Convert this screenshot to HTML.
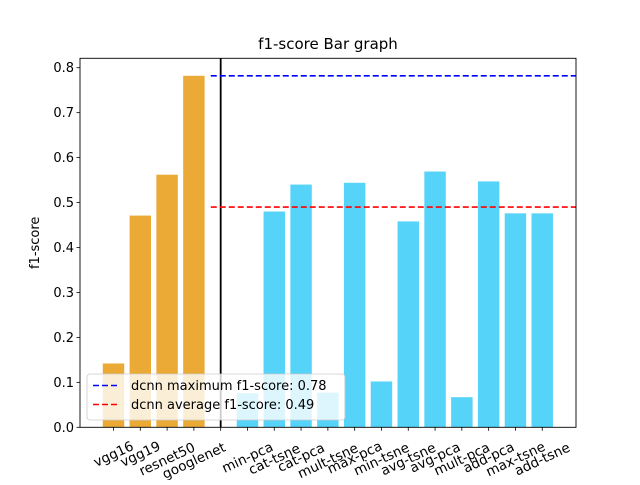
<!DOCTYPE html>
<html><head><meta charset="utf-8"><style>
body{margin:0;background:#fff}
svg text{font-family:"DejaVu Sans","Liberation Sans",sans-serif;fill:#000}
</style></head><body>
<svg width="640" height="480" viewBox="0 0 640 480">
<rect width="640" height="480" fill="#fff"/>
<g id="plot"></g>
</svg>
<script>
const dcnnLabels=["vgg16","vgg19","resnet50","googlenet"];
const dcnnValues=[0.142,0.471,0.562,0.782];
const fusionLabels=["min-pca","cat-tsne","cat-pca","mult-tsne","max-pca","min-tsne","avg-tsne","avg-pca","mult-pca","add-pca","max-tsne","add-tsne"];
const fusionValues=[0.076,0.48,0.54,0.077,0.544,0.102,0.458,0.569,0.067,0.547,0.476,0.476];
const yTicks=[0,0.1,0.2,0.3,0.4,0.5,0.6,0.7,0.8];
const maxScore=0.782, avgScore=0.49;

const NS="http://www.w3.org/2000/svg";
const g=document.getElementById('plot');
const L=80,R=576,T=58.3,B=427.3;
const xmin=-1.25,xmax=17.26,ymax=(B-T)/449.5;
const x=v=>L+(v-xmin)/(xmax-xmin)*(R-L);
const y=v=>B-v/ymax*(B-T);
function el(tag,attrs,parent){const e=document.createElementNS(NS,tag);for(const k in attrs)e.setAttribute(k,attrs[k]);(parent||g).appendChild(e);return e;}
const bw=0.8*(x(1)-x(0));
const ang=25*Math.PI/180;
function bar(i,v,color,name){
  const r=el('rect',{x:x(i)-bw/2,y:y(v),width:bw,height:y(0)-y(v),fill:color});
  
  
}
function xtick(i,label){
  const t=el('line',{x1:x(i),x2:x(i),y1:B,y2:B+3.5,stroke:'#000','stroke-width':0.8});
  
  
  if(label){
    const w=label.length*7.8;
    const hgt=w*Math.sin(ang)+13*Math.cos(ang);
    const tx=el('text',{x:0,y:4.5,'font-size':13.5,'text-anchor':'middle',transform:`translate(${x(i)},${440+hgt/2}) rotate(-25)`});
    tx.textContent=label;
    
    
  }
}
dcnnValues.forEach((v,i)=>{bar(i,v,'#eba936','bar-'+dcnnLabels[i]);xtick(i,dcnnLabels[i]);});
xtick(4,'');
fusionValues.forEach((v,i)=>{bar(i+5,v,'#56d3f9','bar-'+fusionLabels[i]);xtick(i+5,fusionLabels[i]);});
const sep=el('line',{x1:x(4),x2:x(4),y1:T,y2:B,stroke:'#000','stroke-width':1.8});


const h1=el('line',{x1:x(3.63),x2:R,y1:y(maxScore),y2:y(maxScore),stroke:'#0000ff','stroke-width':1.6,'stroke-dasharray':'6 3'});


const h2=el('line',{x1:x(3.63),x2:R,y1:y(avgScore),y2:y(avgScore),stroke:'#ff0000','stroke-width':1.6,'stroke-dasharray':'6 3'});


yTicks.forEach(v=>{
  const t=el('line',{x1:L-3.5,x2:L,y1:y(v),y2:y(v),stroke:'#000','stroke-width':0.8});
  
  
  const tx=el('text',{x:L-6,y:y(v)+4.5,'font-size':13,'text-anchor':'end'});
  tx.textContent=v.toFixed(1);
  
  
});
const fr=el('rect',{x:L,y:T,width:R-L,height:B-T,fill:'none',stroke:'#000','stroke-width':0.9});


const title=el('text',{x:(L+R)/2,y:49,'font-size':15,'text-anchor':'middle'});
title.textContent='f1-score Bar graph';


const yl=el('text',{x:0,y:0,'font-size':13,'text-anchor':'middle',transform:`translate(39,${(T+B)/2}) rotate(-90)`});
yl.textContent='f1-score';


const lg=el('g',{});


el('rect',{x:87,y:374,width:258,height:46,rx:3,fill:'#fff','fill-opacity':0.8,stroke:'#ccc','stroke-width':0.8},lg);
const ent=[['#0000ff','dcnn maximum f1-score: 0.78',390],['#ff0000','dcnn average f1-score: 0.49',409]];
ent.forEach(e=>{
  const it=el('g',{},lg);
  
  
  el('line',{x1:93,x2:120,y1:e[2]-4.5,y2:e[2]-4.5,stroke:e[0],'stroke-width':1.6,'stroke-dasharray':'6 3'},it);
  const t=el('text',{x:131,y:e[2],'font-size':13},it);
  t.textContent=e[1];
});
</script>
</body></html>
